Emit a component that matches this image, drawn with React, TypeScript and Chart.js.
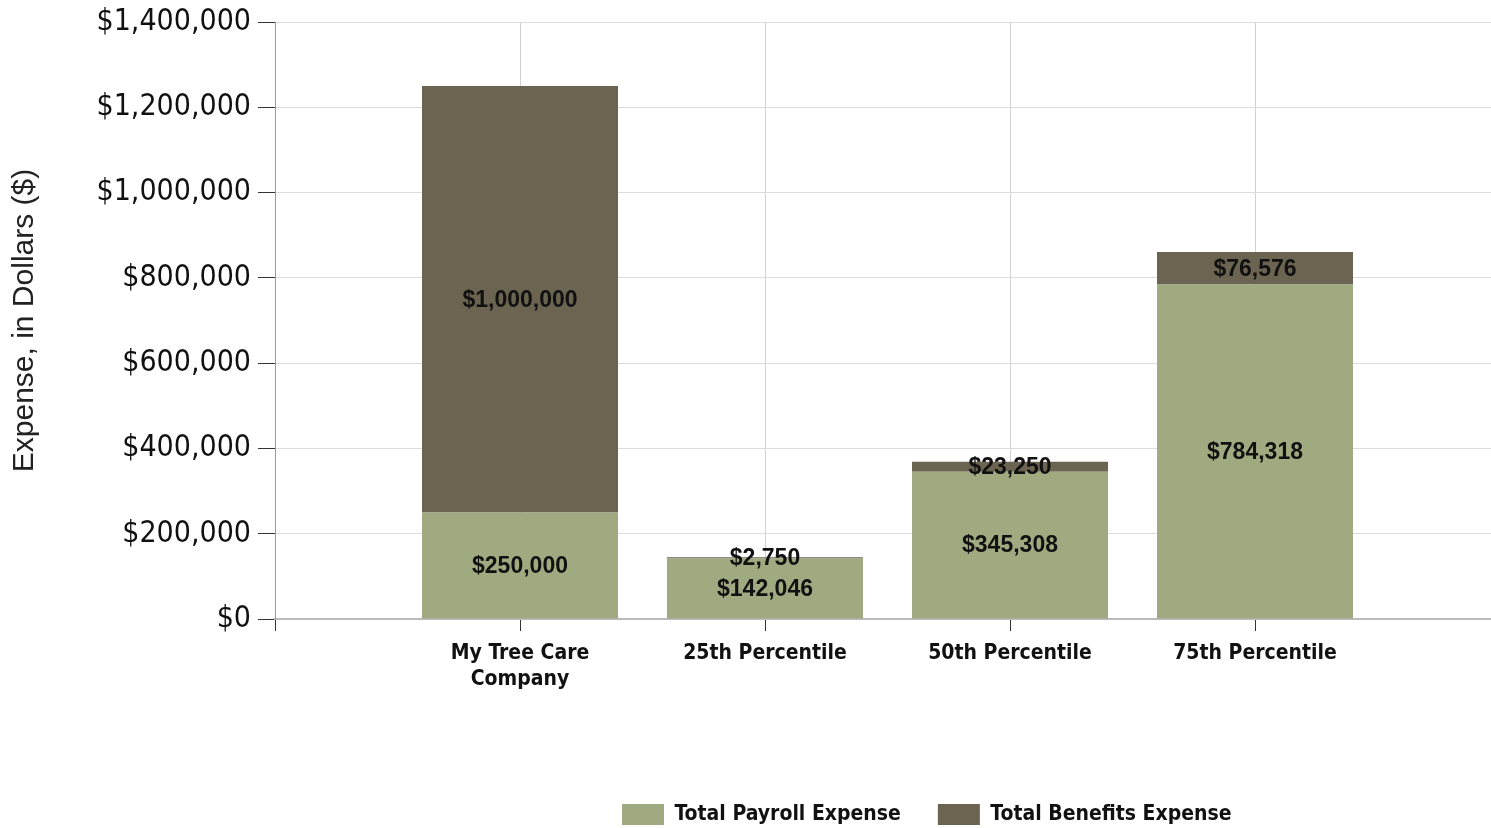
import React, { useEffect, useRef } from "react";
import { Chart, registerables } from "chart.js";

Chart.register(...registerables);

const CATEGORIES: (string | string[])[] = [
  ["My Tree Care", "Company"],
  "25th Percentile",
  "50th Percentile",
  "75th Percentile",
];
const PAYROLL = [250000, 142046, 345308, 784318];
const BENEFITS = [1000000, 2750, 23250, 76576];
const SERIES_NAMES = ["Total Payroll Expense", "Total Benefits Expense"];
const Y_MIN = 0;
const Y_MAX = 1400000;
const Y_STEP = 200000;
const Y_TITLE = "Expense, in Dollars ($)";

const PAYROLL_COLOR = "#a0aa80";
const BENEFITS_COLOR = "#6b6450";
const LEGEND_LEFT = 622;

const fmt = (v: number) => "$" + Math.round(v).toLocaleString("en-US");

const labelPlugin = {
  id: "segmentLabels",
  afterLayout(chart: any) {
    const lg = chart.legend;
    if (lg) {
      const pad = lg.options.labels.padding;
      const w = lg.right - lg.left;
      lg.left = LEGEND_LEFT - pad;
      lg.right = lg.left + w;
    }
  },
  afterDatasetsDraw(chart: any) {
    const ctx = chart.ctx;
    ctx.save();
    ctx.font = "bold 23px 'Liberation Sans', Arial, sans-serif";
    ctx.fillStyle = "#111";
    ctx.textAlign = "center";
    ctx.textBaseline = "middle";
    chart.data.datasets.forEach((ds: any, di: number) => {
      const meta = chart.getDatasetMeta(di);
      meta.data.forEach((el: any, i: number) => {
        const p = el.getProps(["x", "y", "base"], true);
        const v = ds.data[i].y;
        ctx.fillText(fmt(v), p.x, (p.y + p.base) / 2 + 1);
      });
    });
    ctx.restore();
  },
};

export default function App() {
  const ref = useRef<HTMLCanvasElement | null>(null);
  useEffect(() => {
    document.body.style.margin = "0";
    document.body.style.overflow = "hidden";
    const canvas = ref.current!;
    const chart = new Chart(canvas, {
      type: "bar",
      data: {
        datasets: [
          {
            label: SERIES_NAMES[0],
            data: PAYROLL.map((v, i) => ({ x: i + 1, y: v })),
            backgroundColor: PAYROLL_COLOR,
            barPercentage: 0.8,
            categoryPercentage: 1,
          },
          {
            label: SERIES_NAMES[1],
            data: BENEFITS.map((v, i) => ({ x: i + 1, y: v })),
            backgroundColor: BENEFITS_COLOR,
            barPercentage: 0.8,
            categoryPercentage: 1,
          },
        ] as any,
      },
      options: {
        responsive: false,
        animation: false,
        devicePixelRatio: 1,
        layout: { padding: { top: 22, left: 0, right: 0, bottom: -7 } },
        plugins: {
          tooltip: { enabled: false },
          legend: {
            position: "bottom",
            align: "start",
            labels: {
              boxWidth: 42,
              boxHeight: 21,
              padding: 37,
              color: "#111",
              font: { family: "'DejaVu Sans Condensed', 'DejaVu Sans', sans-serif", size: 21, weight: "bold" },
            },
          },
        },
        scales: {
          x: {
            type: "linear",
            stacked: true,
            offset: false,
            min: 0,
            max: (1491 - 275) / 245,
            afterBuildTicks: (scale: any) => {
              scale.ticks = [0, ...CATEGORIES.map((_, i) => i + 1)].map((v) => ({ value: v }));
            },
            afterFit: (scale: any) => {
              scale.height = 148;
            },
            ticks: {
              autoSkip: false,
              maxRotation: 0,
              padding: 9,
              color: "#111",
              font: { family: "'DejaVu Sans Condensed', 'DejaVu Sans', sans-serif", size: 21, weight: "bold", lineHeight: 1.25 },
              callback: (v: any) => {
                const idx = Number(v) - 1;
                return idx >= 0 && idx < CATEGORIES.length ? (CATEGORIES[idx] as any) : "";
              },
            },
            grid: {
              offset: false,
              color: "#d0d0d0",
              tickColor: "#333",
              tickLength: 12,
              lineWidth: 1,
            },
            border: { color: "#bbbbbb", width: 2 },
          },
          y: {
            stacked: true,
            min: Y_MIN,
            max: Y_MAX,
            afterFit: (scale: any) => {
              scale.width = 275;
            },
            ticks: {
              stepSize: Y_STEP,
              padding: 7,
              color: "#111",
              font: { family: "'DejaVu Sans Condensed', 'DejaVu Sans', sans-serif", size: 30, lineHeight: 1 },
              callback: (v: any) => fmt(Number(v)),
            },
            grid: {
              color: "#dcdcdc",
              tickColor: "#333",
              tickLength: 17,
              lineWidth: 1,
            },
            border: { color: "#999999", width: 1 },
            title: {
              display: true,
              text: Y_TITLE,
              color: "#222",
              padding: { top: 7, bottom: 0 },
              font: { family: "'Liberation Sans', Arial, sans-serif", size: 30 },
            },
          },
        },
      } as any,
      plugins: [labelPlugin],
    });
    return () => chart.destroy();
  }, []);
  return <canvas ref={ref} width={1491} height={828} style={{ display: "block" }} />;
}
